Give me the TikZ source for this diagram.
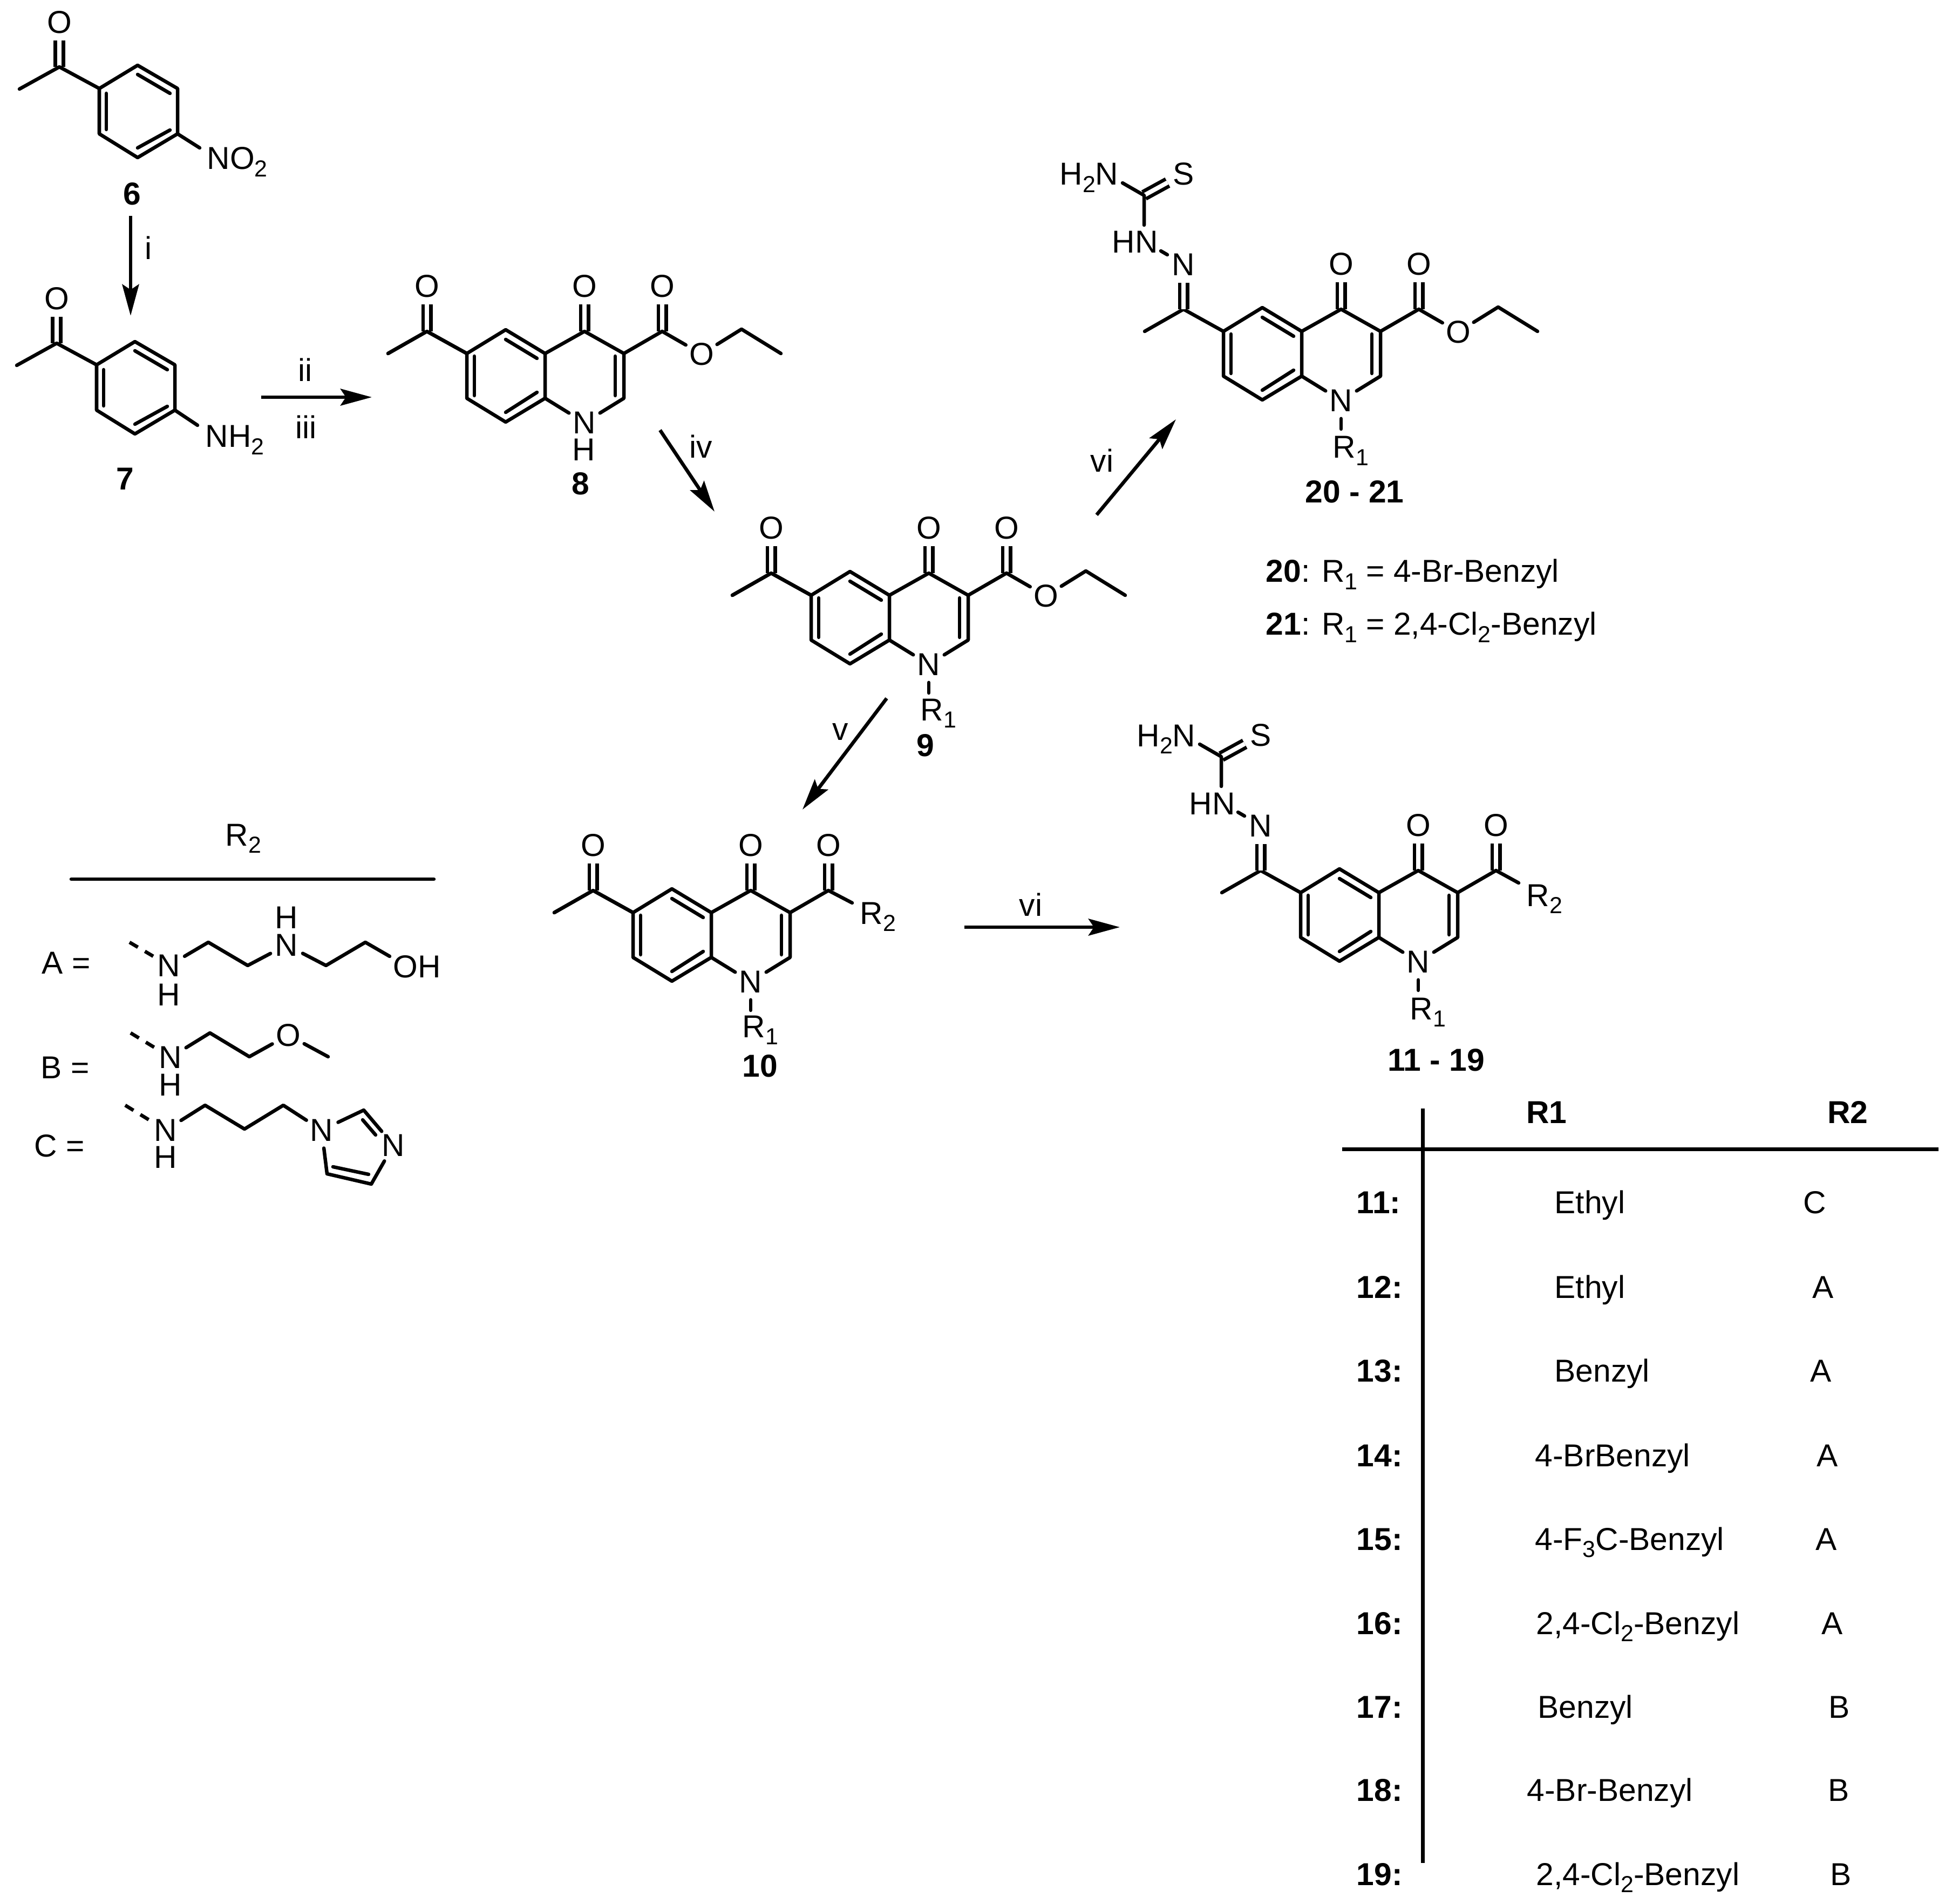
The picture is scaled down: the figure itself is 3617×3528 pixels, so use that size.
\documentclass[tikz,border=0pt]{standalone}
\usepackage{fontspec}
\setmainfont{Liberation Sans}
\usetikzlibrary{arrows.meta}

\newcommand{\chemfont}{\fontsize{16.7pt}{19pt}\selectfont}
\newcommand{\lowidx}[1]{\raisebox{-.23em}{\fontsize{12.2pt}{13pt}\selectfont #1}}

\tikzset{
	bond/.style={line width=.065cm,line cap=round,line join=round},
	dbond/.style={line width=.065cm,double,double distance=.08cm,line cap=butt},
	dashbond/.style={bond,line cap=butt,dash pattern=on .18cm off .15cm},
	rxn/.style={line width=.065cm,-{Stealth[length=.58cm,width=.31cm,inset=.1cm]}},
	atom/.style={circle,minimum size=.66cm,inner sep=0pt},
	rule/.style={line width=.07cm},
	cpd/.style={font=\chemfont\bfseries,anchor=base},
	txt/.style={anchor=base west}
}

% quinolone skeleton, origin at the upper ring fusion atom
\newcommand{\quincore}{
	\coordinate (a1) at (-145,0);
	\coordinate (a2) at (-73,-44);
	\coordinate (a3) at (0,0);
	\coordinate (a4) at (0,83);
	\coordinate (a5) at (-73,127);
	\coordinate (a6) at (-145,83);
	\coordinate (c4) at (73,-41);
	\coordinate (c3) at (146,0);
	\coordinate (c2) at (146,83);
	\coordinate (c6) at (-219,-41);
	\coordinate (me) at (-291,0);
	\coordinate (cx) at (217,-41);
	\node[atom] (n1) at (73,128) {N};
	\node[atom] (o4) at (73,-125) {O};
	\node[atom] (ox) at (217,-125) {O};
	\draw[dbond] (c4) -- (o4);
	\draw[dbond] (cx) -- (ox);
	\draw[bond] (a1) -- (a2) -- (a3) -- (a4) -- (a5) -- (a6) -- cycle;
	\draw[bond] (a3) -- (c4) -- (c3) -- (c2) -- (n1) -- (a4);
	\draw[bond] (c3) -- (cx);
	\draw[bond] (me) -- (c6) -- (a1);
	\draw[bond] (-131,5) -- (-131,78);
	\draw[bond] (-73,-26) -- (-15,9);
	\draw[bond] (-15,72) -- (-73,109);
	\draw[bond] (130,5) -- (130,78);
}
\newcommand{\acetyl}{
	\node[atom] (o6) at (-219,-125) {O};
	\draw[dbond] (c6) -- (o6);
	\draw[bond] (me) -- (c6) -- (a1);
}
\newcommand{\ester}{
	\node[atom] (oe) at (290,1) {O};
	\coordinate (ch2) at (364,-45);
	\coordinate (ch3) at (437,0);
	\draw[bond] (cx) -- (oe) -- (ch2) -- (ch3);
}
\newcommand{\ronesub}[1]{
	\coordinate (rend) at (73,181);
	\node[txt] (r1) at (57,#1) {R\lowidx{1}};
	\draw[bond] (n1) -- (rend);
}
\newcommand{\rtwosub}[2]{
	\coordinate (rq) at (#1,-18);
	\node[txt] (r2) at (#1+14,#2) {R\lowidx{2}};
	\draw[bond] (cx) -- (rq);
}
\newcommand{\hydrazone}{
	\node[atom] (nh) at (-219,-124) {N};
	\node[atom] (s) at (-219,-292) {S};
	\coordinate (cs) at (-292,-252);
	\coordinate (csn) at (-292,-197);
	\coordinate (h2e) at (-332,-275);
	\coordinate (hna) at (-261,-149);
	\coordinate (hnb) at (-249,-142);
	\node[txt] (hn) at (-352,-145) {HN};
	\node[txt] (h2n) at (-449,-271) {H\lowidx{2}N};
	\draw[dbond] (c6) -- (nh);
	\draw[dbond] (cs) -- (s);
	\draw[bond] (h2e) -- (cs) -- (csn);
	\draw[bond] (hna) -- (hnb);
}
% benzene ring with acetyl group, origin at the ipso atom
\newcommand{\acetoring}{
	\coordinate (b1) at (0,0);
	\coordinate (b2) at (71,-43);
	\coordinate (b3) at (145,0);
	\coordinate (b4) at (145,84);
	\coordinate (b5) at (71,128);
	\coordinate (b6) at (0,84);
	\coordinate (co) at (-74,-40);
	\coordinate (meb) at (-148,1);
	\node[atom] (ob) at (-74,-123) {O};
	\draw[dbond] (co) -- (ob);
	\draw[bond] (b1) -- (b2) -- (b3) -- (b4) -- (b5) -- (b6) -- cycle;
	\draw[bond] (meb) -- (co) -- (b1);
	\draw[bond] (13,9) -- (13,76);
	\draw[bond] (71,-26) -- (131,9);
	\draw[bond] (71,110) -- (131,77);
}

\begin{document}
\begin{tikzpicture}[x=.01cm,y=-.01cm,every node/.style={font=\chemfont,inner sep=0pt}]
	\useasboundingbox (0,0) rectangle (3617,3528);

	% compounds 6 and 7
	\begin{scope}[shift={(184,164)},name prefix=six-]
		\acetoring
		\coordinate (nb) at (186,110);
		\node[txt] (no2) at (199,150) {NO\lowidx{2}};
		\draw[bond] (b4) -- (nb);
	\end{scope}
	\node[cpd] (lab6) at (245,380) {6};
	\begin{scope}[shift={(179,676)},name prefix=sev-]
		\acetoring
		\coordinate (nb) at (187,112);
		\node[txt] (nh2) at (201,153) {NH\lowidx{2}};
		\draw[bond] (b4) -- (nb);
	\end{scope}
	\node[cpd] (lab7) at (232,908) {7};

	% compound 8
	\begin{scope}[shift={(1010,655)},name prefix=eig-]
		\quincore
		\acetyl
		\ester
		\node[atom] (h1) at (72,178) {H};
	\end{scope}
	\node[cpd] (lab8) at (1076,917) {8};

	% compound 9
	\begin{scope}[shift={(1648,1103)},name prefix=nin-]
		\quincore
		\acetyl
		\ester
		\ronesub{232}
	\end{scope}
	\node[cpd] (lab9) at (1715,1402) {9};

	% compound 10
	\begin{scope}[shift={(1318,1691)},name prefix=ten-]
		\quincore
		\acetyl
		\ronesub{231}
		\rtwosub{261}{21}
	\end{scope}
	\node[cpd] (lab10) at (1408,1995) {10};

	% compounds 20 - 21
	\begin{scope}[shift={(2412,614)},name prefix=twe-]
		\quincore
		\hydrazone
		\ester
		\ronesub{235}
	\end{scope}
	\node[cpd] (lab20) at (2510,932) {20 - 21};
	\node[txt] (def20) at (2345,1079) {\textbf{20}: R\lowidx{1} = 4-Br-Benzyl};
	\node[txt] (def21) at (2345,1177) {\textbf{21}: R\lowidx{1} = 2,4-Cl\lowidx{2}-Benzyl};

	% compounds 11 - 19
	\begin{scope}[shift={(2555,1654)},name prefix=ele-]
		\quincore
		\hydrazone
		\ronesub{235}
		\rtwosub{259}{25}
	\end{scope}
	\node[cpd] (lab11) at (2661,1984) {11 - 19};

	% reaction arrows
	\coordinate (sti) at (242,400);
	\coordinate (eni) at (242,585);
	\coordinate (stii) at (484,736);
	\coordinate (enii) at (689,736);
	\coordinate (stiv) at (1223,797);
	\coordinate (eniv) at (1324,948);
	\coordinate (stv) at (1643,1294);
	\coordinate (env) at (1487,1500);
	\coordinate (stvi) at (1787,1718);
	\coordinate (envi) at (2075,1718);
	\coordinate (stup) at (2032,954);
	\coordinate (enup) at (2179,777);
	\draw[rxn] (sti) -- (eni);
	\draw[rxn] (stii) -- (enii);
	\draw[rxn] (stiv) -- (eniv);
	\draw[rxn] (stv) -- (env);
	\draw[rxn] (stvi) -- (envi);
	\draw[rxn] (stup) -- (enup);
	\node (labi) at (275,459) {i};
	\node (labii) at (566,685) {ii};
	\node (labiii) at (567,791) {iii};
	\node (labiv) at (1299,827) {iv};
	\node (labv) at (1557,1356) {v};
	\node (labvi) at (1910,1676) {vi};
	\node (labvib) at (2042,853) {vi};

	% R2 panel
	\node[txt] (rtwo) at (417,1567) {R\lowidx{2}};
	\coordinate (rla) at (132,1629);
	\coordinate (rlb) at (804,1629);
	\draw[bond] (rla) -- (rlb);

	\node[txt] (pa) at (77,1804) {A =};
	\node[atom] (pan) at (313,1789) {N};
	\node[atom] (pah) at (313,1843) {H};
	\node[atom] (pbn) at (531,1751) {N};
	\node[atom] (pbh) at (531,1700) {H};
	\node[txt] (poh) at (728,1811) {OH};
	\coordinate (pas) at (240,1746);
	\coordinate (pa1) at (386,1746);
	\coordinate (pa2) at (459,1789);
	\coordinate (pa3) at (604,1789);
	\coordinate (pa4) at (677,1746);
	\coordinate (pa5) at (722,1772);
	\draw[dashbond] (pas) -- (pan);
	\draw[bond] (pan) -- (pa1) -- (pa2) -- (pbn) -- (pa3) -- (pa4) -- (pa5);

	\node[txt] (pb) at (75,1998) {B =};
	\node[atom] (qan) at (316,1959) {N};
	\node[atom] (qah) at (316,2010) {H};
	\node[atom] (qo) at (534,1918) {O};
	\coordinate (qas) at (242,1914);
	\coordinate (qa1) at (389,1914);
	\coordinate (qa2) at (462,1958);
	\coordinate (qa3) at (608,1958);
	\draw[dashbond] (qas) -- (qan);
	\draw[bond] (qan) -- (qa1) -- (qa2) -- (qo) -- (qa3);

	\node[txt] (pc) at (63,2143) {C =};
	\node[atom] (ran) at (307,2094) {N};
	\node[atom] (rah) at (307,2144) {H};
	\node[atom] (rim) at (596,2094) {N};
	\node[atom] (rin) at (729,2122) {N};
	\coordinate (ras) at (232,2048);
	\coordinate (ra1) at (380,2048);
	\coordinate (ra2) at (453,2092);
	\coordinate (ra3) at (525,2048);
	\coordinate (ri2) at (674,2057);
	\coordinate (ri4) at (688,2194);
	\coordinate (ri5) at (606,2175);
	\draw[dashbond] (ras) -- (ran);
	\draw[bond] (ran) -- (ra1) -- (ra2) -- (ra3) -- (rim);
	\draw[bond] (rim) -- (ri2) -- (rin) -- (ri4) -- (ri5) -- (rim);
	\draw[bond] (672,2075) -- (696,2103);
	\draw[bond] (617,2162) -- (683,2176);

	% table
	\coordinate (tva) at (2636,2054);
	\coordinate (tvb) at (2636,3452);
	\coordinate (tha) at (2487,2129);
	\coordinate (thb) at (3592,2129);
	\draw[rule] (tva) -- (tvb);
	\draw[rule] (tha) -- (thb);
	\node[cpd] (hone) at (2866,2081) {R1};
	\node[cpd] (htwo) at (3424,2081) {R2};
	\foreach \rid/\ry/\rx/\rone/\rtx/\rtwo in {
		11/2248/2880/Ethyl/3363/C,
		12/2405/2880/Ethyl/3378/A,
		13/2560/2880/Benzyl/3374/A,
		14/2717/2844/4-BrBenzyl/3386/A,
		15/2872/2844/{4-F\lowidx{3}C-Benzyl}/3384/A,
		16/3028/2846/{2,4-Cl\lowidx{2}-Benzyl}/3395/A,
		17/3183/2849/Benzyl/3408/B,
		18/3337/2829/4-Br-Benzyl/3407/B,
		19/3493/2846/{2,4-Cl\lowidx{2}-Benzyl}/3411/B}{
		\node[cpd,anchor=base west] (id\rid) at (2513,\ry) {\rid:};
		\node[txt] (rowa\rid) at (\rx,\ry) {\rone};
		\node[anchor=base] (rowb\rid) at (\rtx,\ry) {\rtwo};
	}
\end{tikzpicture}
\end{document}
